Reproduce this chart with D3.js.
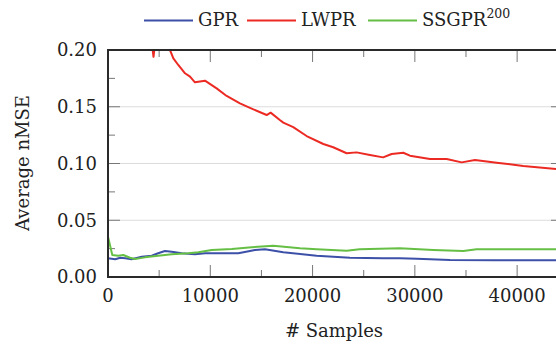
<!DOCTYPE html>
<html>
<head>
<meta charset="utf-8">
<script src="https://cdn.jsdelivr.net/npm/d3@7"></script>
<style>
  body { margin: 0; background: #fff; }
  svg text { font-family: "DejaVu Serif", serif; fill: #222; }
</style>
</head>
<body>
<div id="chart"></div>
<script>
// samples / values
const gprX   = [0, 700, 1200, 1700, 2300, 3300, 4270, 4900, 5570, 6230, 7200, 8500, 9480, 11100, 12740, 13880, 14370, 15350, 17140, 20400, 23650, 26900, 28540, 30200, 33430, 38000, 44484];
const gprY   = [0.0165, 0.0156, 0.017, 0.0165, 0.0156, 0.0179, 0.0188, 0.0209, 0.0229, 0.0223, 0.0209, 0.020, 0.0209, 0.0209, 0.0209, 0.0229, 0.0238, 0.0244, 0.0218, 0.0188, 0.017, 0.0165, 0.0165, 0.016, 0.015, 0.0148, 0.0147];

const lwprX  = [0, 1500, 3000, 4000, 4300, 4450, 4600, 5200, 5800, 6060, 6390, 6870, 7530, 8020, 8500, 9480, 10620, 11600, 12900, 13880, 15510, 15900, 16800, 17140, 18110, 19420, 21050, 22020, 23330, 24300, 25610, 26900, 27730, 28870, 29520, 31480, 33110, 34580, 35880, 38000, 40600, 44484];
const lwprY  = [0.45, 0.32, 0.25, 0.215, 0.205, 0.194, 0.206, 0.215, 0.207, 0.200, 0.1927, 0.1868, 0.1795, 0.1765, 0.1715, 0.173, 0.1662, 0.1595, 0.153, 0.149, 0.1427, 0.1448, 0.1383, 0.136, 0.132, 0.1242, 0.1172, 0.1143, 0.109, 0.1098, 0.1075, 0.1054, 0.1084, 0.1095, 0.1069, 0.104, 0.104, 0.101, 0.1031, 0.1007, 0.0978, 0.0945];

const ssgprX = [0, 420, 1000, 1500, 2150, 2640, 3620, 4900, 6230, 7850, 8830, 10140, 12100, 14050, 16160, 18770, 20400, 23330, 24600, 28540, 31800, 34730, 36040, 40000, 44484];
const ssgprY = [0.0355, 0.0194, 0.0188, 0.0194, 0.017, 0.0159, 0.0173, 0.0188, 0.020, 0.0209, 0.0218, 0.0238, 0.0247, 0.0262, 0.0276, 0.0253, 0.0244, 0.0232, 0.0244, 0.0253, 0.0238, 0.0229, 0.0244, 0.0244, 0.0244];

const series = [
  { name: 'GPR',   xs: gprX,   ys: gprY,   color: '#3c50a8' },
  { name: 'LWPR',  xs: lwprX,  ys: lwprY,  color: '#ec2a24' },
  { name: 'SSGPR', xs: ssgprX, ys: ssgprY, color: '#66bf45' }
];

const xTicks = [0, 10000, 20000, 30000, 40000];
const yTicks = [0, 0.05, 0.10, 0.15, 0.20];

const W = 556, H = 345;
const margin = { top: 50, right: -7, bottom: 68, left: 108 };
const iw = W - margin.left - margin.right;
const ih = H - margin.top - margin.bottom;

const svg = d3.select('#chart').append('svg').attr('width', W).attr('height', H);
const g = svg.append('g').attr('transform', `translate(${margin.left},${margin.top})`);

const x = d3.scaleLinear().domain([0, 44484]).range([0, iw]);
const y = d3.scaleLinear().domain([0, 0.2]).range([ih, 0]);

g.append('clipPath').attr('id', 'clip')
  .append('rect').attr('width', iw).attr('height', ih);

// grid
g.append('g').selectAll('line').data(yTicks.slice(1, -1)).join('line')
  .attr('x1', 0).attr('x2', iw)
  .attr('y1', d => y(d)).attr('y2', d => y(d))
  .attr('stroke', '#dcdcdc').attr('stroke-width', 1);

// ticks on all four sides
const major = 12, minor = 7;
const xMinor = d3.range(5000, 44484, 10000);
const yMinor = [0.025, 0.075, 0.125, 0.175];
const tk = g.append('g').attr('stroke', '#777').attr('stroke-width', 1);
function xt(vals, len) {
  tk.append('g').selectAll('line').data(vals).join('line')
    .attr('x1', d => x(d)).attr('x2', d => x(d)).attr('y1', ih).attr('y2', ih - len);
  tk.append('g').selectAll('line').data(vals).join('line')
    .attr('x1', d => x(d)).attr('x2', d => x(d)).attr('y1', 0).attr('y2', len);
}
function yt(vals, len) {
  tk.append('g').selectAll('line').data(vals).join('line')
    .attr('y1', d => y(d)).attr('y2', d => y(d)).attr('x1', 0).attr('x2', len);
  tk.append('g').selectAll('line').data(vals).join('line')
    .attr('y1', d => y(d)).attr('y2', d => y(d)).attr('x1', iw).attr('x2', iw - len);
}
xt(xTicks.slice(1), major); xt(xMinor, minor);
yt(yTicks.slice(1, -1), major); yt(yMinor, minor);

// data lines
const line = d3.line().x(d => x(d[0])).y(d => y(d[1]));
g.append('g').attr('clip-path', 'url(#clip)').selectAll('path').data(series).join('path')
  .attr('d', s => line(s.xs.map((v, i) => [v, s.ys[i]])))
  .attr('fill', 'none').attr('stroke', s => s.color).attr('stroke-width', 2)
  .attr('stroke-linejoin', 'round');

// frame
g.append('rect').attr('width', iw).attr('height', ih)
  .attr('fill', 'none').attr('stroke', '#2a2a2a').attr('stroke-width', 2);

// tick labels
g.append('g').selectAll('text').data(xTicks).join('text')
  .attr('x', d => x(d)).attr('y', ih + 25).attr('text-anchor', 'middle')
  .attr('font-size', 18).text(d3.format('d'));
g.append('g').selectAll('text').data(yTicks).join('text')
  .attr('x', -11).attr('y', d => y(d)).attr('dy', '0.36em').attr('text-anchor', 'end')
  .attr('font-size', 18).text(d3.format('.2f'));

// axis titles
svg.append('text').attr('x', 334).attr('y', 337).attr('text-anchor', 'middle')
  .attr('font-size', 18).text('# Samples');
svg.append('text').attr('transform', 'translate(29,163) rotate(-90)')
  .attr('text-anchor', 'middle').attr('font-size', 18).text('Average nMSE');

// legend
const leg = svg.append('g');
const legPos = [144, 247, 368];
series.forEach((s, i) => {
  const lx = legPos[i];
  leg.append('line').attr('x1', lx).attr('x2', lx + 49).attr('y1', 20.5).attr('y2', 20.5)
    .attr('stroke', s.color).attr('stroke-width', 2);
  const t = leg.append('text').attr('x', lx + 54).attr('y', 26).attr('font-size', 18).text(s.name);
  if (s.name === 'SSGPR') {
    t.append('tspan').attr('font-size', 12.5).attr('dy', -8).text('200');
  }
});
</script>
</body>
</html>
